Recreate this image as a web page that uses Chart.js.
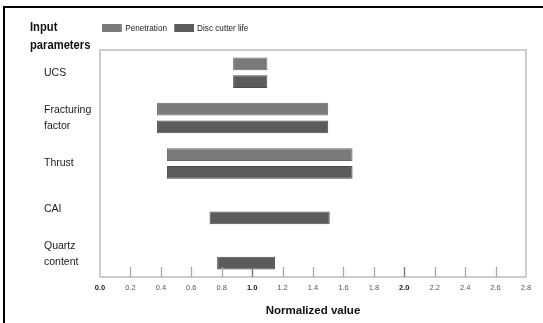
<!DOCTYPE html>
<html>
<head>
<meta charset="utf-8">
<script src="https://cdn.jsdelivr.net/npm/chart.js@4.4.1/dist/chart.umd.min.js"></script>
<style>
    body { margin: 0; background: #fff; }
    #wrap { position: relative; width: 543px; height: 323px; overflow: hidden; }
    #frame { position: absolute; left: 3px; top: 6px; width: 600px; height: 400px;
             border-top: 2px solid #000; border-left: 2px solid #000; }
    #title { position: absolute; left: 30px; top: 18px; font: bold 13.5px/18px "Liberation Sans", Arial, sans-serif;
             color: #111; transform: scaleX(0.83); transform-origin: 0 0; }
    #legend { position: absolute; left: 102px; top: 22px; font: 9.5px "Liberation Sans", Arial, sans-serif; color: #222;
              display: flex; align-items: center; transform: scaleX(0.86); transform-origin: 0 0; white-space: nowrap; }
    #legend span.box { display: inline-block; width: 23px; height: 8px; margin-right: 4px; }
    #legend span.item { display: inline-flex; align-items: center; margin-right: 8px; }
    canvas { position: absolute; left: 0; top: 0; }
</style>
</head>
<body>
<div id="wrap">
    <div id="frame"></div>
    <canvas id="chart" width="543" height="323"></canvas>
    <div id="title">Input<br>parameters</div>
    <div id="legend"></div>
</div>
<script>
// Input parameters (multi-line labels) and the normalized ranges
const params = [['UCS'], ['Fracturing', 'factor'], ['Thrust'], ['CAI'], ['Quartz', 'content']];
const penetrationMin = [0.875, 0.375, 0.44, null, null];
const penetrationMax = [1.10, 1.50, 1.66, null, null];
const discLifeMin = [0.875, 0.375, 0.44, 0.72, 0.77];
const discLifeMax = [1.10, 1.50, 1.66, 1.51, 1.15];
const xTicks = [0, 0.2, 0.4, 0.6, 0.8, 1.0, 1.2, 1.4, 1.6, 1.8, 2.0, 2.2, 2.4, 2.6, 2.8];

const seriesNames = ['Penetration', 'Disc cutter life'];
const seriesColors = ['#7a7a7a', '#5b5b5b'];
const FONT = '"Liberation Sans", Arial, sans-serif';

// build floating bar pairs, nulls leave a gap
function ranges(lo, hi) {
    return lo.map((v, i) => (v === null ? null : [v, hi[i]]));
}

function isMajor(v) {
    const r = Math.round(v * 10) / 10;
    return r === 0 || r === 1 || r === 2;
}

// light grey frame round the plot and short inward ticks on the x axis
const frameTicks = {
    id: 'frameTicks',
    afterDraw(chart) {
        const { ctx, chartArea: a, scales: { x } } = chart;
        ctx.save();
        ctx.strokeStyle = '#bdbdbd';
        ctx.lineWidth = 1.5;
        ctx.strokeRect(a.left, a.top, a.right - a.left, a.bottom - a.top);
        ctx.lineWidth = 1.3;
        xTicks.forEach(v => {
            if (v <= 0 || v >= xTicks[xTicks.length - 1]) return;
            const px = Math.round(x.getPixelForValue(v)) + 0.5;
            ctx.strokeStyle = isMajor(v) ? '#707070' : '#a8a8a8';
            ctx.beginPath();
            ctx.moveTo(px, a.bottom);
            ctx.lineTo(px, a.bottom - 10);
            ctx.stroke();
        });
        ctx.restore();
    }
};

new Chart(document.getElementById('chart'), {
    type: 'bar',
    data: {
        labels: params,
        datasets: [
            {
                label: seriesNames[0],
                data: ranges(penetrationMin, penetrationMax),
                backgroundColor: seriesColors[0],
                borderColor: '#6a6a6a',
                borderWidth: 1,
                borderSkipped: false
            },
            {
                label: seriesNames[1],
                data: ranges(discLifeMin, discLifeMax),
                backgroundColor: seriesColors[1],
                borderColor: '#4d4d4d',
                borderWidth: 1,
                borderSkipped: false
            }
        ]
    },
    options: {
        indexAxis: 'y',
        responsive: false,
        animation: false,
        categoryPercentage: 0.78,
        barPercentage: 0.72,
        layout: { padding: { top: 50, right: 17, left: 44, bottom: 0 } },
        plugins: {
            legend: { display: false },
            tooltip: { enabled: false }
        },
        scales: {
            x: {
                type: 'linear',
                min: 0,
                max: 2.8,
                afterBuildTicks: scale => { scale.ticks = xTicks.map(v => ({ value: v })); },
                afterFit: scale => { scale.height = 46; },
                grid: { display: false, drawTicks: false },
                border: { display: false },
                ticks: {
                    padding: 6,
                    maxRotation: 0,
                    autoSkip: false,
                    callback: v => Number(v).toFixed(1),
                    color: c => (c.tick && isMajor(c.tick.value) ? '#222' : '#555'),
                    font: c => ({ family: FONT, size: 7.5, weight: c.tick && isMajor(c.tick.value) ? 'bold' : 'normal' })
                },
                title: {
                    display: true,
                    text: 'Normalized value',
                    color: '#111',
                    font: { family: FONT, size: 11.5, weight: 'bold' },
                    padding: { top: 0, bottom: 5 }
                }
            },
            y: {
                afterFit: scale => { scale.width = 56; },
                grid: { display: false, drawTicks: false },
                border: { display: false },
                ticks: {
                    crossAlign: 'far',
                    color: '#1a1a1a',
                    font: { family: FONT, size: 10.5, lineHeight: 1.55 }
                }
            }
        }
    },
    plugins: [frameTicks]
});

// html legend above the plot
document.getElementById('legend').innerHTML = seriesNames.map((n, i) =>
    `<span class="item"><span class="box" style="background:${seriesColors[i]}"></span>${n}</span>`
).join('');
</script>
</body>
</html>
